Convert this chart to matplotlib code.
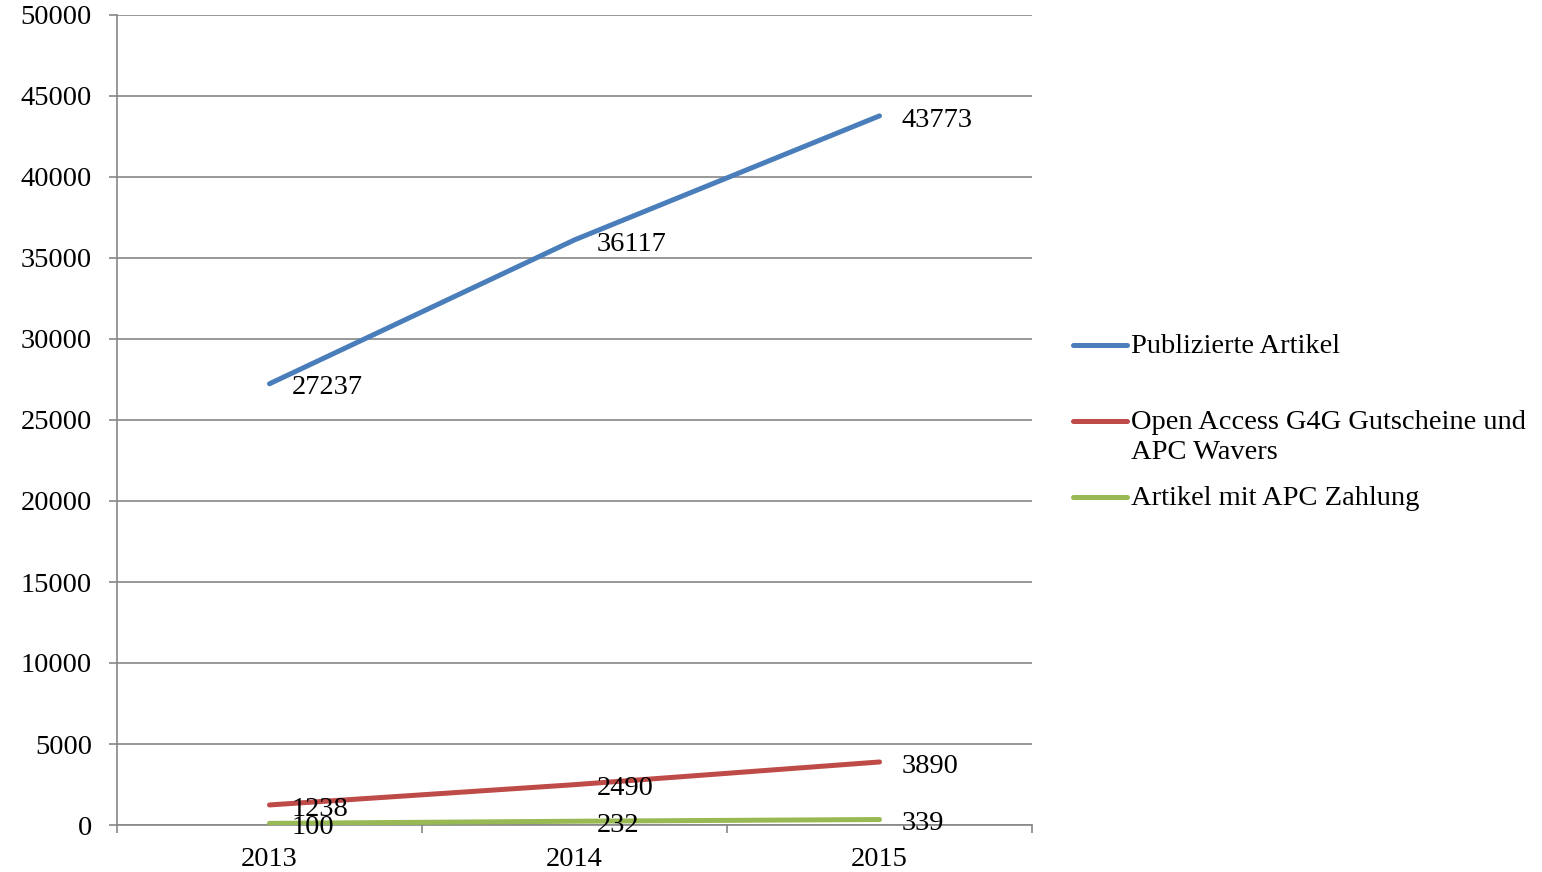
import matplotlib
matplotlib.use("Agg")
import matplotlib.pyplot as plt
from matplotlib.lines import Line2D

years = ["2013", "2014", "2015"]
publiziert = [27237, 36117, 43773]
g4g = [1238, 2490, 3890]
apc = [100, 232, 339]

series_names = ["Publizierte Artikel",
                "Open Access G4G Gutscheine und\nAPC Wavers",
                "Artikel mit APC Zahlung"]
series_values = [publiziert, g4g, apc]
colors = ["#4A7EBB", "#BE4B48", "#98B954"]
yticks = list(range(0, 50001, 5000))

plt.rcParams["font.family"] = ["Liberation Serif", "DejaVu Serif"]
plt.rcParams["font.size"] = 20.5
grid_col = "#868686"

fig = plt.figure(figsize=(15.42, 8.72), dpi=100)
ax = fig.add_axes([117 / 1542, 1 - 825 / 872, (1032 - 117) / 1542, (825 - 15) / 872])

x = list(range(len(years)))
for vals, col in zip(series_values, colors):
    ax.plot(x, vals, color=col, lw=3.6, solid_capstyle="round", zorder=3)
    for xi, v in zip(x, vals):
        ax.annotate(str(v), (xi, v), xytext=(16, -3), textcoords="offset points",
                    ha="left", va="center", zorder=4)

ax.set_xlim(-0.5, 2.5)
ax.set_ylim(0, 50000)
ax.set_yticks(yticks)
ax.set_yticklabels([str(t) for t in yticks])
ax.set_xticks(x)
ax.set_xticklabels(years)
ax.set_xticks([-0.5, 0.5, 1.5, 2.5], minor=True)
ax.tick_params(axis="x", which="major", length=0, pad=16)
ax.tick_params(axis="x", which="minor", length=6, width=1.2, color=grid_col)
ax.tick_params(axis="y", length=6, width=1.2, color=grid_col, pad=12)

ax.grid(axis="y", color=grid_col, lw=1.2, zorder=0)
for side in ["top", "right"]:
    ax.spines[side].set_visible(False)
for side in ["left", "bottom"]:
    ax.spines[side].set_color(grid_col)
    ax.spines[side].set_linewidth(1.2)

# legend, placed like the original (uneven spacing)
leg_y = [345, 421, 497]
for name, col, yp in zip(series_names, colors, leg_y):
    yf = 1 - yp / 872
    fig.add_artist(Line2D([1073 / 1542, 1127 / 1542], [yf, yf], color=col, lw=3.6,
                          solid_capstyle="round", transform=fig.transFigure))
    fig.text(1131 / 1542, yf + 11 / 872, name, ha="left", va="top", linespacing=1.25)

fig.savefig("out.png", dpi=100)
